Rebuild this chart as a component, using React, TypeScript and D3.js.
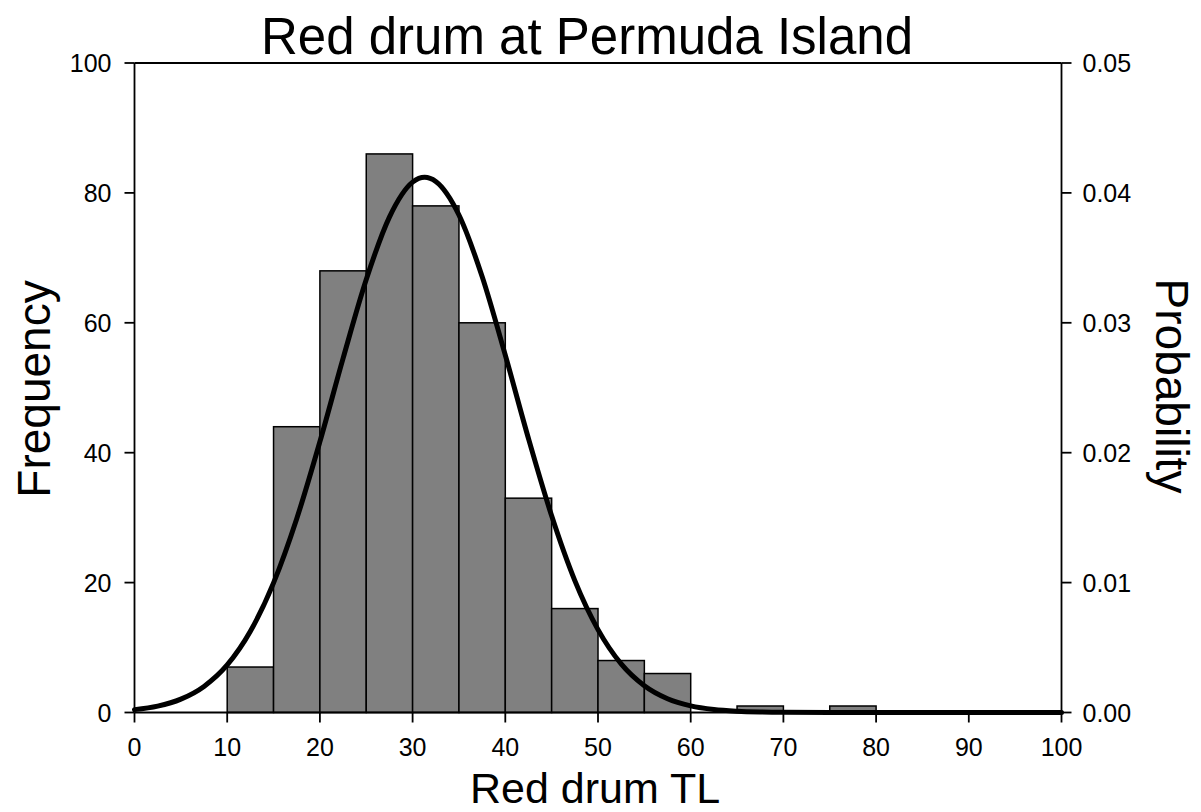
import React from "react";
import * as d3 from "d3";

// Histogram bins of total length (lower edge) and counts
const binStarts = [10, 15, 20, 25, 30, 35, 40, 45, 50, 55, 60, 65, 70, 75];
const binWidth = 5;
const binCounts = [7, 44, 68, 86, 78, 60, 33, 16, 8, 6, 0, 1, 0, 1];

// Fitted density curve, sampled along TL
const curveX = [0, 2.5, 5, 7.5, 10, 12.5, 15, 17.5, 20, 22.5, 25, 27.5, 30, 31.3, 32.5, 35, 37.5, 40, 42.5, 45, 47.5, 50, 52.5, 55, 57.5, 60, 62.5, 65, 67.5, 70, 75, 80, 85, 90, 95, 100];
const curveP = [0.00022, 0.00049, 0.00103, 0.00201, 0.00366, 0.00625, 0.00998, 0.01492, 0.02085, 0.02726, 0.03333, 0.03814, 0.04083, 0.0412, 0.04088, 0.0383, 0.03356, 0.02751, 0.02109, 0.01514, 0.01015, 0.00638, 0.00374, 0.00206, 0.00106, 0.00051, 0.00023, 0.0001, 0.00004, 0.000014, 0.000001, 0, 0, 0, 0, 0];

const xTicks = [0, 10, 20, 30, 40, 50, 60, 70, 80, 90, 100];
const freqTicks = [0, 20, 40, 60, 80, 100];
const probTicks = [0, 0.01, 0.02, 0.03, 0.04, 0.05];

const W = 1201;
const H = 812;
const left = 134.5;
const right = 1061.5;
const top = 63;
const bottom = 712.5;
const font = "'Liberation Sans', Arial, Helvetica, sans-serif";

export default function App() {
  const x = d3.scaleLinear().domain([0, 100]).range([left, right]);
  const yF = d3.scaleLinear().domain([0, 100]).range([bottom, top]);
  const yP = d3.scaleLinear().domain([0, 0.05]).range([bottom, top]);

  const pts: [number, number][] = curveX.map((v, i) => [v, curveP[i]]);
  const line = d3
    .line<[number, number]>()
    .x((d) => x(d[0]))
    .y((d) => yP(d[1]))
    .curve(d3.curveMonotoneX);

  const tickLen = 10;

  return (
    <svg
      width={W}
      height={H}
      style={{ position: "absolute", left: 0, top: 0, background: "#fff", display: "block" }}
    >
      <rect x={0} y={0} width={W} height={H} fill="#fff" />
      {/* bars */}
      {binStarts.map((s, i) =>
        binCounts[i] > 0 ? (
          <rect
            key={s}
            x={x(s)}
            y={yF(binCounts[i])}
            width={x(s + binWidth) - x(s)}
            height={yF(0) - yF(binCounts[i])}
            fill="#808080"
            stroke="#000"
            strokeWidth={1.5}
          />
        ) : null
      )}

      {/* frame */}
      <line x1={left} x2={right} y1={top} y2={top} stroke="#000" strokeWidth={1.8} />
      <line x1={left} x2={left} y1={top} y2={bottom} stroke="#000" strokeWidth={1.8} />
      <line x1={right} x2={right} y1={top} y2={bottom} stroke="#000" strokeWidth={1.8} />
      <line x1={left} x2={right} y1={bottom} y2={bottom} stroke="#000" strokeWidth={1.8} />

      {/* density curve */}
      <path d={line(pts) || ""} fill="none" stroke="#000" strokeWidth={5} strokeLinejoin="round" strokeLinecap="round" />

      {/* left axis */}
      {freqTicks.map((t) => (
        <g key={"f" + t}>
          <line x1={left - tickLen} x2={left} y1={yF(t)} y2={yF(t)} stroke="#000" strokeWidth={1.8} />
          <text x={left - 23} y={yF(t)} dy="0.36em" textAnchor="end" fontFamily={font} fontSize={25}>
            {t}
          </text>
        </g>
      ))}

      {/* right axis */}
      {probTicks.map((t) => (
        <g key={"p" + t}>
          <line x1={right} x2={right + tickLen} y1={yP(t)} y2={yP(t)} stroke="#000" strokeWidth={1.8} />
          <text x={right + 21} y={yP(t)} dy="0.36em" textAnchor="start" fontFamily={font} fontSize={25}>
            {t.toFixed(2)}
          </text>
        </g>
      ))}

      {/* bottom axis */}
      {xTicks.map((t) => (
        <g key={"x" + t}>
          <line x1={x(t)} x2={x(t)} y1={bottom} y2={bottom + tickLen} stroke="#000" strokeWidth={1.8} />
          <text x={x(t)} y={756} textAnchor="middle" fontFamily={font} fontSize={25}>
            {t}
          </text>
        </g>
      ))}

      {/* titles */}
      <text x={587} y={54} textAnchor="middle" fontFamily={font} fontSize={51}>
        Red drum at Permuda Island
      </text>
      <text x={595} y={803} textAnchor="middle" fontFamily={font} fontSize={43}>
        Red drum TL
      </text>
      <text
        transform={`translate(50,389) rotate(-90)`}
        textAnchor="middle"
        fontFamily={font}
        fontSize={46}
      >
        Frequency
      </text>
      <text
        transform={`translate(1156,386) rotate(90)`}
        textAnchor="middle"
        fontFamily={font}
        fontSize={46}
      >
        Probability
      </text>
    </svg>
  );
}
